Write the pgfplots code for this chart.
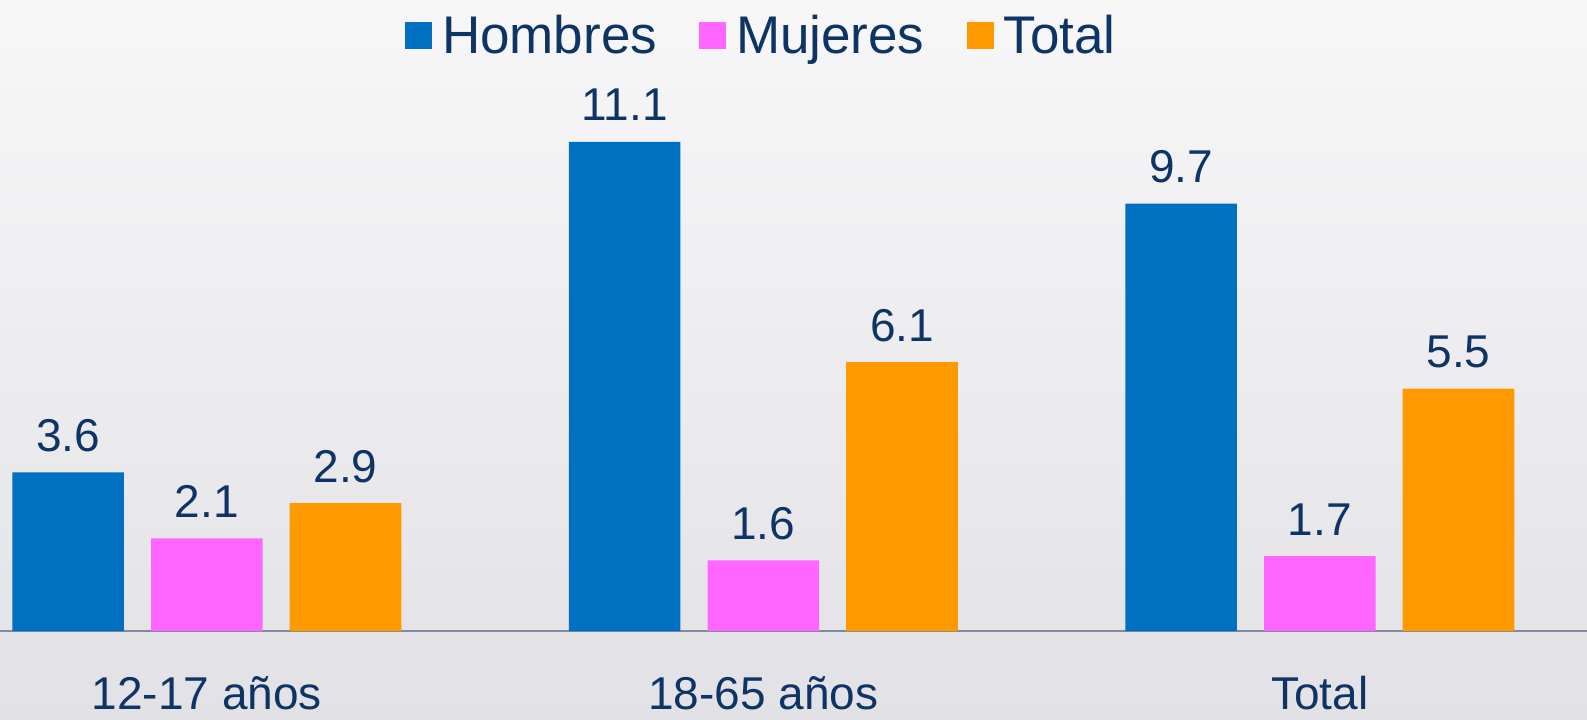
\documentclass[border=0pt]{standalone}
\usepackage{fontspec}
\setmainfont{Liberation Sans}
\usepackage{pgfplots}
\pgfplotsset{compat=1.18}
\definecolor{cblue}{RGB}{0,112,192}
\definecolor{cpink}{RGB}{255,102,255}
\definecolor{corange}{RGB}{255,153,0}
\definecolor{ctext}{RGB}{14,52,102}
\definecolor{caxis}{RGB}{128,138,158}
\definecolor{bgtop}{RGB}{247,247,248}
\definecolor{bgbot}{RGB}{226,226,230}
\begin{document}
\begin{tikzpicture}
\shade[top color=bgtop, bottom color=bgbot] (0,0) rectangle (793.5pt,359.5pt);
\begin{axis}[
  at={(0pt,44pt)}, anchor=south west,
  width=793.5pt, height=315.5pt, scale only axis,
  xmin=-0.3716, xmax=2.4801, ymin=0, ymax=14.32,
  axis y line=none,
  axis x line=bottom,
  x axis line style={-, draw=caxis, line width=0.7pt},
  xtick={0,1,2}, xticklabels={12-17 años,18-65 años,Total},
  major tick length=0pt,
  xticklabel style={font=\fontsize{23}{27}\selectfont, text=ctext, anchor=base, yshift=-39pt},
  ybar, bar width=0.2005,
  nodes near coords,
  nodes near coords style={font=\fontsize{23}{27}\selectfont, text=ctext, anchor=base, yshift=10.5pt},
  /pgf/number format/fixed, /pgf/number format/fixed zerofill,
  /pgf/number format/precision=1, /pgf/number format/assume math mode=true,
  legend columns=-1,
  legend style={draw=none, fill=none, inner sep=0pt, outer sep=0pt,
    at={(0.2552,0.9437)}, anchor=west,
    font=\fontsize{26.5}{30}\selectfont, text=ctext,
    nodes={inner sep=0pt},
    /tikz/every odd column/.append style={column sep=5pt},
    /tikz/every even column/.append style={column sep=21pt}},
]
\addplot[fill=cblue, draw=none, bar shift=-0.2492,
  legend image code/.code={\fill[cblue] (0pt,-6.75pt) rectangle (13.5pt,6.75pt);}]
  coordinates {(0,3.6) (1,11.1) (2,9.7)};
\addplot[fill=cpink, draw=none, bar shift=0,
  legend image code/.code={\fill[cpink] (0pt,-6.75pt) rectangle (13.5pt,6.75pt);}]
  coordinates {(0,2.1) (1,1.6) (2,1.7)};
\addplot[fill=corange, draw=none, bar shift=0.2492,
  legend image code/.code={\fill[corange] (0pt,-6.75pt) rectangle (13.5pt,6.75pt);}]
  coordinates {(0,2.9) (1,6.1) (2,5.5)};
\legend{Hombres, Mujeres, Total}
\end{axis}
\pgfresetboundingbox
\useasboundingbox (0,0) rectangle (793.5pt,359.5pt);
\end{tikzpicture}
\end{document}
